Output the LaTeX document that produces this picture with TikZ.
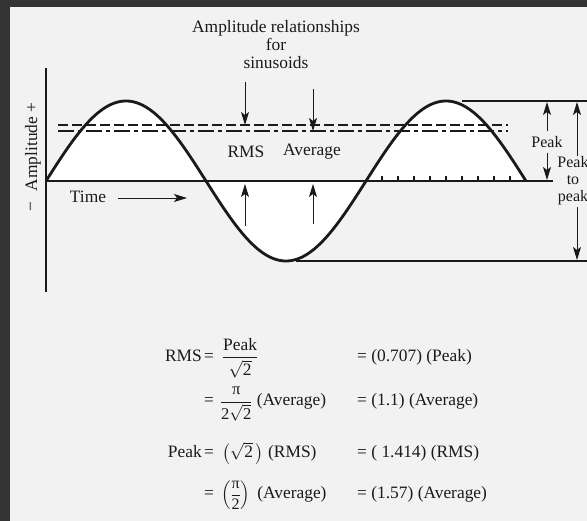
\documentclass[tikz,border=0pt]{standalone}
\usepackage{amsmath}
\usepackage{fontspec}
\setmainfont{Liberation Serif}
\usetikzlibrary{arrows.meta}
\definecolor{bgdark}{HTML}{333333}
\definecolor{panel}{HTML}{F2F2F2}
\definecolor{ink}{HTML}{1A1A1A}
\begin{document}
\begin{tikzpicture}[x=1pt,y=-1pt,
  lbl/.style={font=\fontsize{17.4}{18}\selectfont, text=ink, inner sep=0pt},
  small/.style={font=\fontsize{16}{17}\selectfont, text=ink, inner sep=0pt},
  eq/.style={lbl, anchor=base west},
  eqr/.style={lbl, anchor=base east},
  arr/.style={line width=0.9pt, draw=ink, -{Stealth[length=13pt,width=8pt,inset=3pt]}},
  heavy/.style={line width=2.2pt, draw=ink},
  tick/.style={line width=1.2pt, draw=ink}
]
\useasboundingbox (0,0) rectangle (587,521);
\fill[bgdark] (0,0) rectangle (587,521);
\fill[panel] (10,7) rectangle (587,521);

% sinusoid fill
\fill[white] plot[domain=0:480,samples=241] ({46+\x},{181-80*sin(\x*1.125)}) -- cycle;

% levels
\draw[line width=1.8pt, draw=ink, dash pattern=on 10pt off 4pt] (58,125) -- (508,125);
\draw[line width=1.8pt, draw=ink, dash pattern=on 16pt off 4pt on 4pt off 4pt] (58,131) -- (508,131);

% axes
\draw[line width=2pt, draw=ink] (46,68) -- (46,292);
\draw[heavy] (46,181) -- (553,181);
\foreach \i in {0,...,8} \draw[tick] ({382+16*\i},181) -- ++(0,-5);

% curve
\draw[line width=2.8pt, draw=ink, line join=round] plot[domain=0:480,samples=241] ({46+\x},{181-80*sin(\x*1.125)});

% peak lines
\draw[heavy] (462,101) -- (590,101);
\draw[heavy] (296,261) -- (590,261);

% labels
\node[lbl, align=center] (title) at (276,45) {Amplitude relationships\\for\\sinusoids};
\node[lbl] (rmsl) at (246,152) {RMS};
\node[lbl] (avgl) at (312,152) {Average};
\node[lbl] (timel) at (88,197) {Time};
\node[lbl, rotate=90] (ampl) at (33,147) {Amplitude +};
\node[lbl, rotate=90] (minus) at (33,207) {−};
\node[small] (peakl) at (547,142) {Peak};
\node[small, align=center] (p2pl) at (573,181) {Peak\\to\\peak};

% arrow coordinates
\coordinate (rmsTop) at (245,82);
\coordinate (rmsLine) at (245,125);
\coordinate (avgTop) at (313,89);
\coordinate (avgLine) at (313,131);
\coordinate (rmsBot) at (245,226);
\coordinate (rmsBase) at (245,184);
\coordinate (avgBot) at (313,224);
\coordinate (avgBase) at (313,184);
\coordinate (timeA) at (118,198);
\coordinate (timeB) at (187,198);
\coordinate (pkTop) at (547,102);
\coordinate (pkBot) at (547,180);
\coordinate (pkUp) at (547,131);
\coordinate (pkDn) at (547,153);
\coordinate (ppTop) at (577,102);
\coordinate (ppBot) at (577,260);
\coordinate (ppUp) at (577,156);
\coordinate (ppDn) at (577,207);

\draw[arr] (rmsTop) -- (rmsLine);
\draw[arr] (avgTop) -- (avgLine);
\draw[arr] (rmsBot) -- (rmsBase);
\draw[arr] (avgBot) -- (avgBase);
\draw[arr] (timeA) -- (timeB);
\draw[arr] (pkUp) -- (pkTop);
\draw[arr] (pkDn) -- (pkBot);
\draw[arr] (ppUp) -- (ppTop);
\draw[arr] (ppDn) -- (ppBot);

% equations
\node[eqr] (e1l) at (202,362) {RMS};
\node[eq] (e1m) at (204,362) {=\hspace{8pt}$\dfrac{\text{Peak}}{\sqrt{\text{2}}}$};
\node[eq] (e1r) at (357,362) {= (0.707) (Peak)};

\node[eq] (e2m) at (204,406) {=\hspace{6pt}\scalebox{0.95}{$\dfrac{\text{π}}{\text{2}\sqrt{\text{2}}}$} (Average)};
\node[eq] (e2r) at (357,406) {= (1.1) (Average)};

\node[eqr] (e3l) at (202,458) {Peak};
\node[eq] (e3m) at (204,458) {=\hspace{8pt}$\bigl(\sqrt{\text{2}}\,\bigr)$ (RMS)};
\node[eq] (e3r) at (357,458) {= ( 1.414) (RMS)};

\node[eq] (e4m) at (204,499) {=\hspace{7pt}\scalebox{0.92}{$\left(\dfrac{\text{π}}{\text{2}}\right)$}\hspace{7pt}(Average)};
\node[eq] (e4r) at (357,499) {= (1.57) (Average)};
\end{tikzpicture}
\end{document}
